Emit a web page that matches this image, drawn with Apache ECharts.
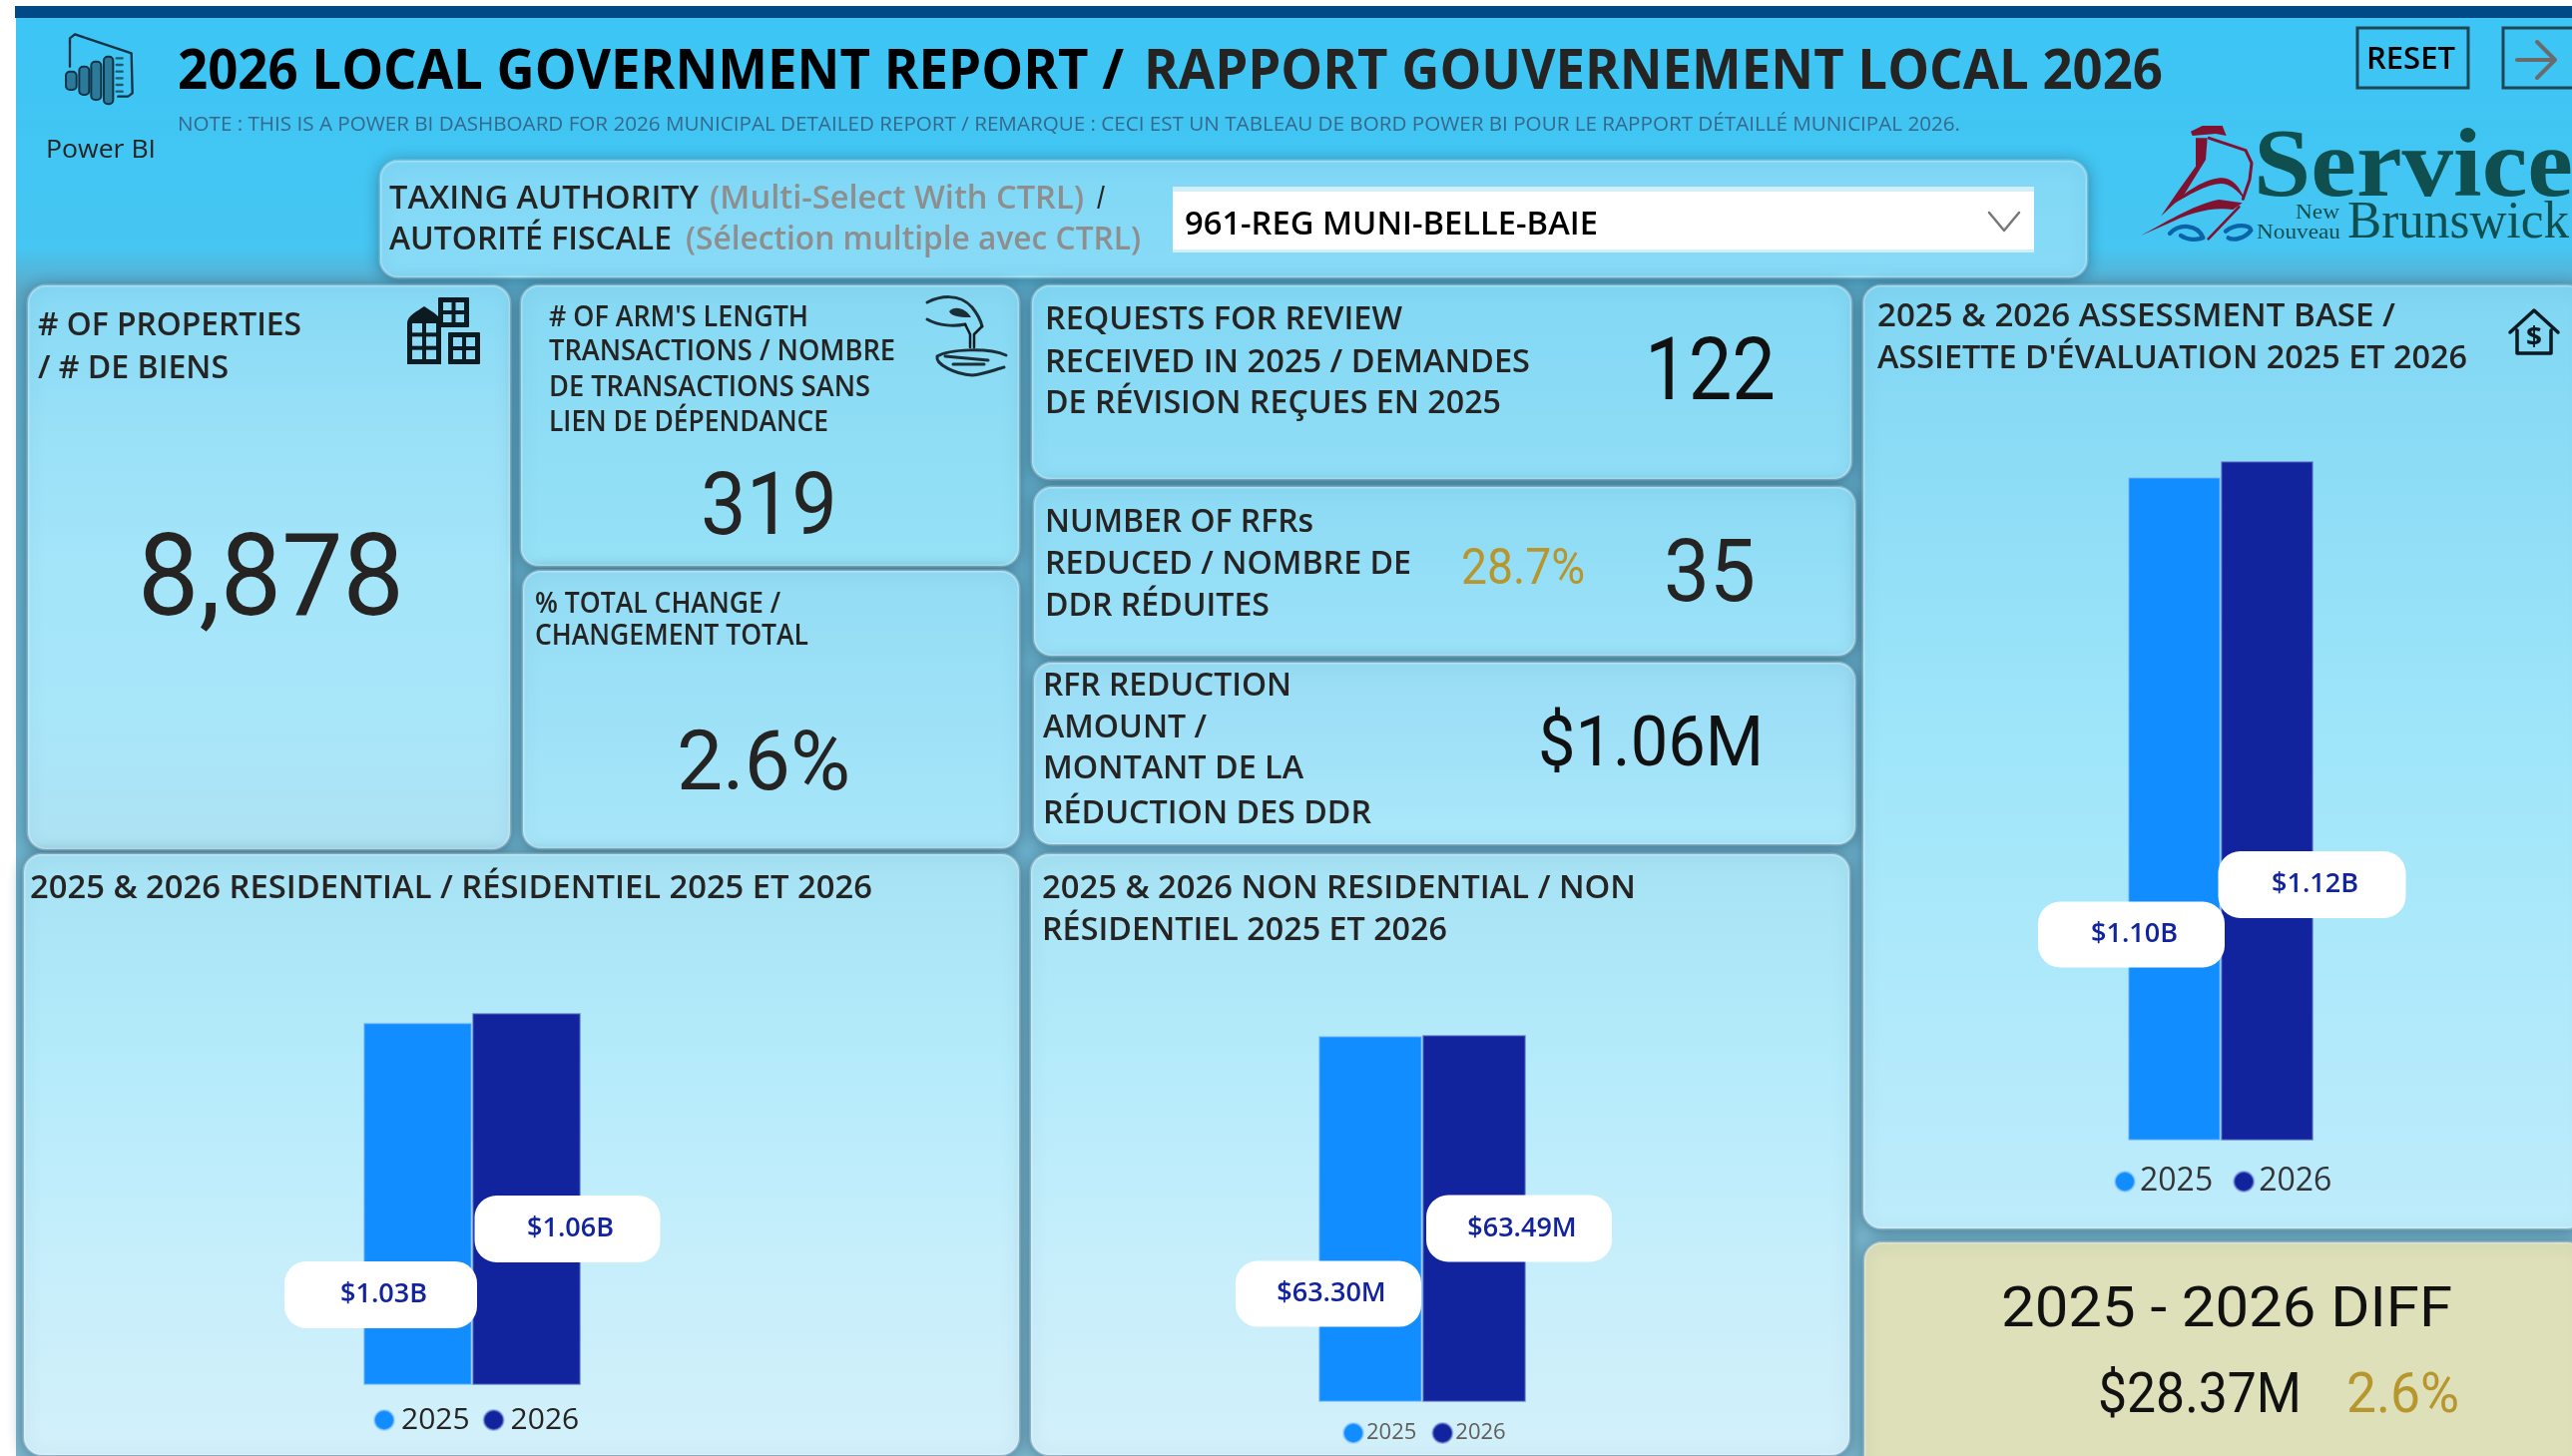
<!DOCTYPE html>
<html>
<head>
<meta charset="utf-8">
<title>2026 Local Government Report</title>
<script src="https://cdn.jsdelivr.net/npm/echarts@6/dist/echarts.min.js"></script>
<style>
  html, body { margin: 0; padding: 0; background: #fff; }
  #dashboard { width: 2577px; height: 1459px; }
</style>
</head>
<body>
<div id="dashboard"></div>
<script>
// chart values
const years = ['2025', '2026'];
const barCategory = ['2025 & 2026'];
const residentialBillions = [1.030, 1.058];
const nonResidentialMillions = [63.30, 63.49];
const assessmentBillions = [1.0955, 1.1217];

// texts and KPI numbers
const reportTitle = ['2026 LOCAL GOVERNMENT REPORT /', 'RAPPORT GOUVERNEMENT LOCAL 2026'];
const reportNote = 'NOTE : THIS IS A POWER BI DASHBOARD FOR 2026 MUNICIPAL DETAILED REPORT / REMARQUE : CECI EST UN TABLEAU DE BORD POWER BI POUR LE RAPPORT DÉTAILLÉ MUNICIPAL 2026.';
const taxingLabel = ['TAXING AUTHORITY', '(Multi-Select With CTRL)', '/', 'AUTORITÉ FISCALE', '(Sélection multiple avec CTRL)'];
const taxingValue = '961-REG MUNI-BELLE-BAIE';
const propertiesLabel = ['# OF PROPERTIES', '/ # DE BIENS'];
const propertiesValue = '8,878';
const armsLengthLabel = ["# OF ARM'S LENGTH", 'TRANSACTIONS / NOMBRE', 'DE TRANSACTIONS SANS', 'LIEN DE DÉPENDANCE'];
const armsLengthValue = '319';
const totalChangeLabel = ['% TOTAL CHANGE /', 'CHANGEMENT TOTAL'];
const totalChangeValue = '2.6%';
const requestsLabel = ['REQUESTS FOR REVIEW', 'RECEIVED IN 2025 / DEMANDES', 'DE RÉVISION REÇUES EN 2025'];
const requestsValue = '122';
const reducedLabel = ['NUMBER OF RFRs', 'REDUCED / NOMBRE DE', 'DDR RÉDUITES'];
const reducedPercent = '28.7%';
const reducedValue = '35';
const reductionLabel = ['RFR REDUCTION', 'AMOUNT /', 'MONTANT DE LA', 'RÉDUCTION DES DDR'];
const reductionValue = '$1.06M';
const residentialTitle = ['2025 & 2026 RESIDENTIAL / RÉSIDENTIEL 2025 ET 2026'];
const nonResidentialTitle = ['2025 & 2026 NON RESIDENTIAL / NON', 'RÉSIDENTIEL 2025 ET 2026'];
const assessmentTitle = ['2025 & 2026 ASSESSMENT BASE /', "ASSIETTE D'ÉVALUATION 2025 ET 2026"];
const diffTitle = '2025 - 2026 DIFF';
const diffValue = '$28.37M';
const diffPercent = '2.6%';

const INK = '#252423';
const GOLD = '#B8962E';
const BLUE_2025 = '#118DFF';
const BLUE_2026 = '#12239E';
const MAROON = '#7E1230';
const ICON = '#0C1A22';
const GLASS = '#8CDBF6';
const SANS = '"Open Sans", sans-serif';
const NUM = 'Roboto, sans-serif';
const SERIF = '"Liberation Serif", serif';

const measure = document.createElement('canvas').getContext('2d');

// text squeezed to the width it has in the reference
function text(str, x, y, width, size, fill, weight, family) {
  const fontWeight = weight || 600;
  const fontFamily = family || SANS;
  measure.font = fontWeight + ' ' + size + 'px ' + fontFamily;
  // caps sit above the middle of the line box
  const nudge = fontFamily === SERIF ? 0 : size * (fontFamily === NUM ? 0.1 : 0.09);
  return {
    type: 'text', x: x, y: y + nudge, z: 5,
    scaleX: width / measure.measureText(str).width,
    style: {
      text: str, x: 0, y: 0, fill: fill || INK,
      fontSize: size, fontWeight: fontWeight, fontFamily: fontFamily,
      textAlign: 'left', textVerticalAlign: 'middle'
    }
  };
}

function card(x, y, x2, y2, stops) {
  return {
    type: 'rect', z: 1,
    shape: { x: x, y: y, width: x2 - x, height: y2 - y, r: 18 },
    style: {
      fill: new echarts.graphic.LinearGradient(0, 0, 0, 1, stops.map((c, i) => ({
        offset: i / (stops.length - 1), color: c
      }))),
      stroke: 'rgba(255,255,255,0.28)', lineWidth: 3,
      shadowBlur: 16, shadowColor: 'rgba(30,70,90,0.55)', shadowOffsetY: 2
    }
  };
}

function box(x, y, w, h, fill, r) {
  return { type: 'rect', z: 4, shape: { x: x, y: y, width: w, height: h, r: r || 0 }, style: { fill: fill } };
}

function outline(x, y, w, h, stroke, lineWidth) {
  return {
    type: 'rect', z: 4, shape: { x: x, y: y, width: w, height: h },
    style: { fill: 'none', stroke: stroke, lineWidth: lineWidth }
  };
}

// the graphic component has no plain svg path, so each icon path gets its own shape class
let iconCount = 0;
function iconPath(d, style) {
  const name = 'iconPath' + (iconCount++);
  echarts.graphic.registerShape(name, echarts.graphic.extendPath(d));
  return { type: name, z: 4, style: style };
}

function stroke(d, color, lineWidth) {
  return iconPath(d, { fill: 'none', stroke: color, lineWidth: lineWidth, lineCap: 'round', lineJoin: 'round' });
}

function filled(d, color) {
  return iconPath(d, { fill: color });
}

function windows(x, y, w, h, cols, rows) {
  const parts = [];
  const m = 5, g = 4;
  const cw = (w - 2 * m - (cols - 1) * g) / cols;
  const ch = (h - 2 * m - (rows - 1) * g) / rows;
  for (let c = 0; c < cols; c++) {
    for (let r = 0; r < rows; r++) {
      parts.push(box(x + m + c * (cw + g), y + m + r * (ch + g), cw, ch, GLASS));
    }
  }
  return parts;
}

function building(x, y, w, h, cols, rows) {
  return [box(x, y, w, h, ICON, 1)].concat(windows(x, y, w, h, cols, rows));
}

function traced(x, y, children) {
  return { type: 'group', x: x, y: y, scaleX: 1 / 3, scaleY: 1 / 3, children: children };
}

function pbiBar(x, y, w, h) {
  return {
    type: 'rect', z: 4, shape: { x: x, y: y, width: w, height: h, r: 12 },
    style: { fill: '#2C7A9A', stroke: '#123245', lineWidth: 6 }
  };
}

const pageGraphics = [
  // page and top band
  {
    type: 'rect', z: 0,
    shape: { x: 16, y: 18, width: 2561, height: 1441 },
    style: {
      fill: new echarts.graphic.LinearGradient(0, 0, 0, 1, [
        { offset: 0, color: '#3CC5F5' },
        { offset: 0.16, color: '#46C6F2' },
        { offset: 0.19, color: '#5CA9C8' },
        { offset: 1, color: '#7FB9D0' }
      ])
    }
  },
  box(15, 6, 2562, 12, '#004B87'),

  // cards
  card(381, 161, 2091, 278, ['#7FD8F6', '#88DBF7']),
  card(28, 286, 511, 851, ['#86D9F5', '#99E0F7', '#A4E5FA', '#A8E6FA', '#AEE2F3']),
  card(522, 286, 1021, 567, ['#86D8F3', '#96E2F7']),
  card(524, 572, 1021, 850, ['#92DCF4', '#A8E6FA']),
  card(1034, 286, 1855, 480, ['#82D8F4', '#90DDF6']),
  card(1036, 488, 1859, 657, ['#8CDAF4', '#9CE2F9']),
  card(1036, 664, 1859, 846, ['#98DCF5', '#ABE8FB']),
  card(24, 856, 1021, 1458, ['#A6E2F4', '#B4EBFB', '#C6EEFB', '#D2F0FA']),
  card(1033, 856, 1853, 1458, ['#A6E2F4', '#B4EBFB', '#C6EEFB', '#D2F0FA']),
  card(1867, 286, 2590, 1231, ['#80D6F3', '#A0E6FA', '#BEECFB']),
  card(1868, 1245, 2590, 1480, ['#DDE0B8', '#DDE0B8']),

  // header
  text(reportTitle[0], 178, 68, 948, 55, '#000', 700),
  text(reportTitle[1], 1146, 68, 1021, 55, '#252423', 700),
  text(reportNote, 178, 123, 1786, 20, '#37678A', 400),
  text('Power BI', 46, 148, 110, 26, '#252423', 400),

  // Power BI mark
  traced(50, 25, [
    stroke('M60 125 L60 40 L75 28 L245 85 L248 205 L235 215 L205 215', '#123245', 7),
    pbiBar(48, 140, 32, 55),
    pbiBar(88, 125, 30, 85),
    pbiBar(124, 110, 30, 115),
    pbiBar(162, 95, 28, 143),
    stroke('M200 100 L218 100 M200 120 L218 120 M200 140 L218 140 M200 160 L218 160 M200 180 L218 180 M200 200 L218 200', '#1F5B75', 7)
  ]),

  // reset / next buttons
  outline(2362, 28, 111, 60, '#1F4657', 3),
  text('RESET', 2371, 58, 89, 30, '#000', 600),
  outline(2508, 28, 80, 60, '#1F4657', 3),
  stroke('M2522 60 L2558 60 M2542 42 L2560 60 L2542 78', '#6B6B6B', 4),

  // Service New Brunswick logo
  traced(2130, 110, [
    filled('M195 65 L230 48 L290 48 L302 78 L270 72 L200 78 Z', MAROON),
    filled('M210 85 L245 85 L240 150 L175 255 L105 320 L160 240 L210 170 Z', MAROON),
    stroke('M250 85 L360 122 L378 160 L372 210 L352 268', MAROON, 9),
    filled('M140 285 C190 235 250 205 290 205 C320 205 345 235 358 272 C335 240 310 222 285 222 C240 225 190 255 140 285 Z', MAROON),
    filled('M45 378 C110 345 200 285 280 270 L350 280 L322 300 C260 290 190 310 120 345 Z', MAROON),
    stroke('M340 292 L248 388', MAROON, 8),
    stroke('M132 372 C160 342 215 342 232 385 M165 378 C185 392 215 392 232 385', '#0B63A8', 13),
    stroke('M300 365 C330 342 372 345 376 362 C360 385 325 395 308 385', '#0B63A8', 13)
  ]),
  text('Service', 2258, 171, 320, 98, '#0F4F50', 700, SERIF),
  text('New', 2300, 214, 44, 20, '#0F4F50', 400, SERIF),
  text('Nouveau', 2261, 234, 84, 20, '#0F4F50', 400, SERIF),
  text('Brunswick', 2352, 224, 222, 52, '#0F4F50', 400, SERIF),

  // taxing authority slicer
  text(taxingLabel[0], 390, 197, 310, 32),
  text(taxingLabel[1], 711, 197, 375, 32, '#8E8E8E'),
  text(taxingLabel[2], 1099, 197, 8, 32),
  text(taxingLabel[3], 390, 238, 283, 32),
  text(taxingLabel[4], 687, 238, 456, 32, '#8E8E8E'),
  box(1175, 187, 863, 66, '#D3EFF9'),
  box(1175, 192, 863, 58, '#FFFFFF'),
  text(taxingValue, 1187, 223, 414, 32, '#000'),
  stroke('M1993 213 L2008 231 L2023 213', '#777', 2.5),

  // KPI: properties
  text(propertiesLabel[0], 38, 324, 264, 32),
  text(propertiesLabel[1], 38, 367, 191, 32),
  text(propertiesValue, 138, 576, 267, 115, INK, 400, NUM),

  // KPI: arm's length
  text(armsLengthLabel[0], 550, 316, 260, 29),
  text(armsLengthLabel[1], 550, 350, 347, 29),
  text(armsLengthLabel[2], 550, 386, 322, 29),
  text(armsLengthLabel[3], 550, 421, 280, 29),
  text(armsLengthValue, 702, 505, 137, 87, INK, 400, NUM),
  stroke('M929 303 C941 297 961 293 974 308 C982 318 984 327 984 327 M929 320 C941 327 957 327 967 325', '#1B2F38', 3),
  filled('M951 312 C957 305 969 310 973 318 C966 318 953 318 951 312 Z', '#1B2F38'),
  stroke('M967 325 L972 335 L972 348 M984 327 L976 335 L976 348', '#0C1A22', 2.5),
  stroke('M939 357 C951 350 990 348 1008 356 M939 357 C937 365 957 375 974 376 C986 375 998 370 1006 368 M947 357 L990 361 M955 365 L986 365', '#1B2F38', 3),

  // KPI: total change
  text(totalChangeLabel[0], 536, 604, 246, 28),
  text(totalChangeLabel[1], 536, 636, 274, 28),
  text(totalChangeValue, 678, 762, 174, 84, INK, 400, NUM),

  // KPI: requests
  text(requestsLabel[0], 1047, 318, 358, 32),
  text(requestsLabel[1], 1047, 361, 486, 32),
  text(requestsLabel[2], 1047, 402, 457, 32),
  text(requestsValue, 1648, 369, 131, 88, '#111', 400, NUM),

  // KPI: reduced
  text(reducedLabel[0], 1047, 521, 269, 32),
  text(reducedLabel[1], 1047, 563, 367, 32),
  text(reducedLabel[2], 1047, 605, 225, 32),
  text(reducedPercent, 1464, 567, 124, 50, GOLD, 400, NUM),
  text(reducedValue, 1667, 571, 92, 88, INK, 400, NUM),

  // KPI: reduction amount
  text(reductionLabel[0], 1045, 685, 249, 32),
  text(reductionLabel[1], 1045, 727, 164, 32),
  text(reductionLabel[2], 1045, 768, 261, 32),
  text(reductionLabel[3], 1045, 813, 329, 32),
  text(reductionValue, 1541, 742, 226, 70, '#111', 400, NUM),

  // bar card titles
  text(residentialTitle[0], 30, 888, 844, 32),
  text(nonResidentialTitle[0], 1044, 888, 595, 32),
  text(nonResidentialTitle[1], 1044, 930, 406, 32),
  text(assessmentTitle[0], 1881, 315, 519, 32),
  text(assessmentTitle[1], 1881, 357, 591, 32),

  // house icon
  stroke('M2515 333 L2539 311 L2563 333 M2522 331 L2522 354 L2556 354 L2556 331', ICON, 3.5),
  text('$', 2531, 337, 16, 26, ICON, 700),

  // diff card
  text(diffTitle, 2005, 1309, 452, 56, '#111', 400, NUM),
  text(diffValue, 2102, 1395, 204, 56, '#111', 400, NUM),
  text(diffPercent, 2351, 1395, 113, 56, GOLD, 400, NUM)
].concat(
  // buildings icon
  building(439, 298, 31, 30, 2, 2),
  building(449, 333, 32, 32, 2, 2),
  [
    filled('M408 324 C408 316 418 312 425 307 C432 312 442 316 442 324 L442 365 L408 365 Z', ICON)
  ],
  windows(408, 319, 34, 46, 2, 3)
);

function pillLabel(formatter, offset, width, height) {
  return {
    show: true,
    position: 'inside',
    offset: offset,
    formatter: formatter,
    width: width - 6,
    height: height - 6,
    lineHeight: height - 6,
    padding: [6, 0, 0, 6],
    align: 'center',
    backgroundColor: '#fff',
    borderRadius: 22,
    color: BLUE_2026,
    fontFamily: SANS,
    fontSize: 27,
    fontWeight: 600
  };
}

function barSeries(gridIndex, yearIndex, values, barWidth, label) {
  const edge = yearIndex === 0 ? 'rgba(140,200,255,0.6)' : 'rgba(120,140,215,0.6)';
  return {
    type: 'bar',
    name: years[yearIndex],
    xAxisIndex: gridIndex,
    yAxisIndex: gridIndex,
    barWidth: barWidth,
    barGap: '0%',
    itemStyle: { color: yearIndex === 0 ? BLUE_2025 : BLUE_2026, borderColor: edge, borderWidth: 1.5 },
    label: label,
    data: [values[yearIndex]]
  };
}

function legend(left, top, fontSize, color, itemGap, textPad) {
  return {
    data: years, left: left, top: top, icon: 'circle', itemWidth: 20, itemHeight: 20,
    itemGap: itemGap, selectedMode: false,
    textStyle: { fontFamily: SANS, fontSize: fontSize, color: color, padding: [0, 0, 0, textPad] }
  };
}

const billions = p => '$' + p.value.toFixed(2) + 'B';
const millions = p => '$' + p.value.toFixed(2) + 'M';

const option = {
  animation: false,
  backgroundColor: '#fff',
  graphic: { elements: pageGraphics },
  legend: [
    legend(369, 1403, 30, '#252423', 13, 2),
    legend(1340, 1420, 22, '#605E5C', 15, -2),
    legend(2113, 1163, 32, '#333', 20, 0)
  ],
  grid: [
    { left: 273, top: 1015, width: 400, height: 373 },
    { left: 1225, top: 1037, width: 400, height: 368 },
    { left: 2025, top: 462, width: 400, height: 681 }
  ],
  xAxis: [0, 1, 2].map(i => ({ type: 'category', gridIndex: i, data: barCategory, show: false })),
  yAxis: [
    { type: 'value', gridIndex: 0, min: 0, max: residentialBillions[1], show: false },
    { type: 'value', gridIndex: 1, min: 0, max: nonResidentialMillions[1], show: false },
    { type: 'value', gridIndex: 2, min: 0, max: assessmentBillions[1], show: false }
  ],
  series: [
    barSeries(0, 0, residentialBillions, 109, pillLabel(billions, [-37, 91], 193, 67)),
    barSeries(0, 1, residentialBillions, 109, pillLabel(billions, [41, 30], 186, 67)),
    barSeries(1, 0, nonResidentialMillions, 104, pillLabel(millions, [-42, 75], 186, 66)),
    barSeries(1, 1, nonResidentialMillions, 104, pillLabel(millions, [45, 10], 186, 67)),
    barSeries(2, 0, assessmentBillions, 93, pillLabel(billions, [-43, 126], 187, 66)),
    barSeries(2, 1, assessmentBillions, 93, pillLabel(billions, [45, 84], 188, 67))
  ]
};

const chart = echarts.init(document.getElementById('dashboard'));
chart.setOption(option);
</script>
</body>
</html>
